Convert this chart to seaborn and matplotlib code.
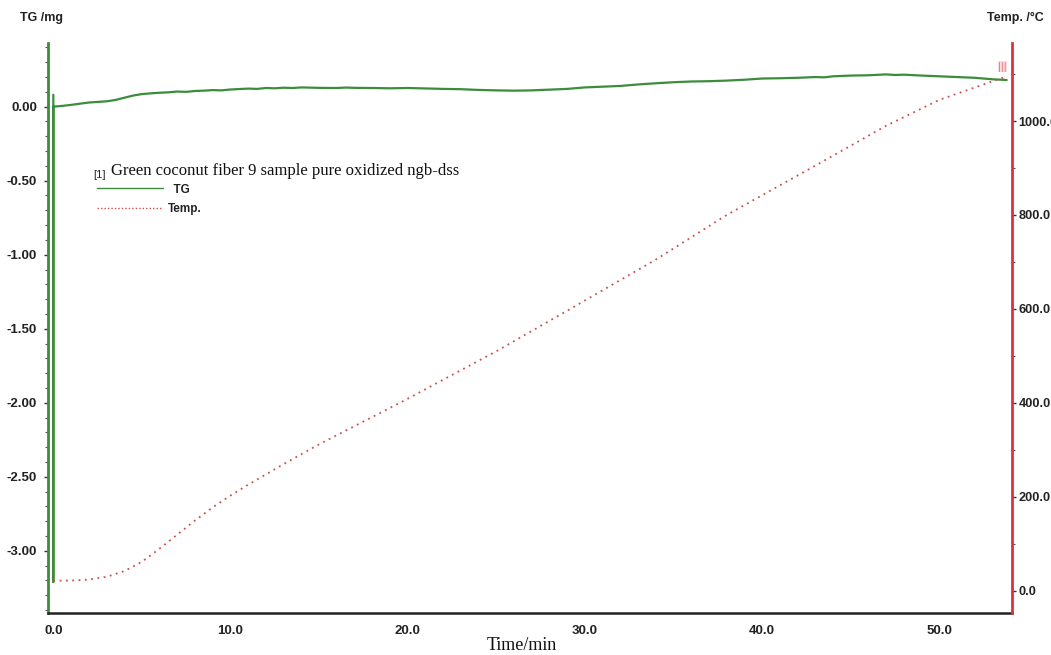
import matplotlib
matplotlib.use("Agg")
import matplotlib.pyplot as plt
import matplotlib.ticker as mticker
from matplotlib.lines import Line2D
import seaborn as sns
import pandas as pd

# ---- data ----
tg_time = [0.0, 0.0, 0.0, 0.5, 1.0, 1.5, 2.0, 2.5, 3.0, 3.5, 4.0, 4.5, 5.0, 5.5, 6.0, 6.5, 7.0,
           7.5, 8.0, 8.5, 9.0, 9.5, 10.0, 10.5, 11.0, 11.5, 12.0, 12.5, 13.0, 13.5, 14.0, 15.0,
           16.0, 16.5, 17.0, 18.0, 19.0, 20.0, 21.0, 22.0, 23.0, 24.0, 25.0, 26.0, 27.0, 28.0,
           29.0, 30.0, 31.0, 32.0, 33.0, 34.0, 35.0, 36.0, 37.0, 38.0, 39.0, 40.0, 41.0, 42.0,
           43.0, 43.5, 44.0, 45.0, 46.0, 47.0, 47.5, 48.0, 49.0, 50.0, 51.0, 52.0, 53.0, 53.8]
tg_mass = [0.08, -3.21, 0.0, 0.005, 0.012, 0.02, 0.028, 0.032, 0.036, 0.045, 0.06, 0.075,
           0.085, 0.09, 0.094, 0.097, 0.102, 0.10, 0.106, 0.108, 0.112, 0.11, 0.116, 0.119,
           0.122, 0.12, 0.126, 0.124, 0.128, 0.126, 0.13, 0.127, 0.126, 0.129, 0.127, 0.126,
           0.124, 0.126, 0.123, 0.12, 0.118, 0.113, 0.11, 0.108, 0.11, 0.115, 0.12, 0.13,
           0.135, 0.14, 0.15, 0.158, 0.165, 0.17, 0.172, 0.176, 0.182, 0.19, 0.192, 0.195,
           0.20, 0.198, 0.205, 0.21, 0.212, 0.218, 0.214, 0.216, 0.21, 0.205, 0.20, 0.195,
           0.185, 0.18]

temp_time = [0.0, 1.0, 2.0, 3.0, 4.0, 5.0, 6.0, 7.0, 8.0, 9.0, 10.0, 11.0, 12.0, 13.0, 14.0,
             15.0, 19.8, 25.0, 29.4, 34.0, 38.0, 43.0, 47.0, 50.0, 53.8]
temp_val = [22, 22, 24, 30, 42, 62, 90, 120, 150, 178, 203, 226, 248, 270, 291,
            312, 405, 510, 605, 705, 800, 905, 990, 1045, 1095]

x_ticks = [0, 10, 20, 30, 40, 50]
tg_ticks = [-3.0, -2.5, -2.0, -1.5, -1.0, -0.5, 0.0]
temp_ticks = [0, 200, 400, 600, 800, 1000]

legend_title = "Green coconut fiber 9 sample pure oxidized ngb-dss"

# ---- styling ----
sns.set_style("white")
plt.rcParams['font.family'] = ['Liberation Sans', 'DejaVu Sans']

GREEN = "#3c8c3c"
RED = "#d8343c"
TEMP_C = "#c8504f"

fig = plt.figure(figsize=(10.51, 6.55), dpi=100)
ax = fig.add_axes([48/1051, 1-613/655, (1012-48)/1051, (613-43)/655])
ax2 = ax.twinx()

tg_df = pd.DataFrame({"t": tg_time, "m": tg_mass})
tp_df = pd.DataFrame({"t": temp_time, "T": temp_val})

sns.lineplot(data=tg_df, x="t", y="m", ax=ax, sort=False, estimator=None,
             color=GREEN, lw=1.6, legend=False)
sns.lineplot(data=tp_df, x="t", y="T", ax=ax2, sort=False, estimator=None,
             color=TEMP_C, lw=1.3, linestyle=(0, (1, 2.5)), legend=False)
# end-of-segment marker
ax2.annotate("|||", xy=(temp_time[-1], temp_val[-1]), xytext=(-3, 7),
             textcoords='offset points', ha='center', va='center',
             fontsize=8, color=RED, alpha=0.6,
             bbox=dict(boxstyle='square,pad=0.05', fc='#f4c8cc', ec='none', alpha=0.6))

ax.set_xlim(-0.3, 54.1)
ax.set_ylim(-3.42, 0.43)
ax2.set_ylim(-47, 1166)

for a in (ax, ax2):
    a.set_xlabel("")
    a.set_ylabel("")
    a.spines['top'].set_visible(False)

ax.spines['left'].set_color(GREEN)
ax.spines['left'].set_linewidth(2.0)
ax.spines['right'].set_visible(False)
ax.spines['bottom'].set_color("#222222")
ax.spines['bottom'].set_linewidth(1.8)
ax2.spines['right'].set_color(RED)
ax2.spines['right'].set_linewidth(2.0)
ax2.spines['left'].set_visible(False)
ax2.spines['bottom'].set_visible(False)

ax.set_xticks(x_ticks)
ax.xaxis.set_major_formatter(mticker.FormatStrFormatter('%.1f'))
ax.xaxis.set_minor_locator(mticker.MultipleLocator(2))
ax.set_yticks(tg_ticks)
ax.yaxis.set_major_formatter(mticker.FormatStrFormatter('%.2f'))
ax.yaxis.set_minor_locator(mticker.MultipleLocator(0.1))
ax2.set_yticks(temp_ticks)
ax2.yaxis.set_major_formatter(mticker.FormatStrFormatter('%.1f'))
ax2.yaxis.set_minor_locator(mticker.MultipleLocator(100))

tick_kw = dict(labelsize=9.5, labelcolor="#222222", colors="#333333")
ax.tick_params(axis='x', which='major', direction='inout', length=5, width=1.2, pad=6, **tick_kw)
ax.tick_params(axis='x', which='minor', direction='inout', length=3, width=1.0, colors="#333333")
ax.tick_params(axis='y', which='major', direction='out', length=3, width=1.0, pad=5, left=True, **tick_kw)
ax.tick_params(axis='y', which='minor', direction='out', length=2, width=0.8, left=True, colors="#555555")
ax2.tick_params(axis='y', which='major', direction='out', length=3, width=1.0, pad=1.5, right=True,
                labelsize=9.2, labelcolor="#222222", colors="#333333")
ax2.tick_params(axis='y', which='minor', direction='out', length=2, width=0.8, right=True, colors="#555555")
for lab in ax.get_xticklabels() + ax.get_yticklabels() + ax2.get_yticklabels():
    lab.set_fontweight('bold')

# axis titles
fig.text(42/1051, 1-18/655, "TG /mg", ha='center', va='center', fontsize=9, fontweight='bold', color="#222222")
fig.text(1015/1051, 1-18/655, "Temp. /°C", ha='center', va='center', fontsize=9, fontweight='bold', color="#222222")
fig.text(522/1051, 1-646/655, "Time/min", ha='center', va='center', fontsize=13,
         family=['Liberation Serif', 'DejaVu Serif'], color="#111111")

# legend
fig.text(93/1051, 1-175/655, "[1]", ha='left', va='center', fontsize=8, color="#222222")
fig.text(111/1051, 1-171/655, legend_title, ha='left', va='center', fontsize=12,
         family=['Liberation Serif', 'DejaVu Serif'], color="#111111")
handles = [Line2D([0], [0], color=GREEN, lw=1.0),
           Line2D([0], [0], color=TEMP_C, lw=1.0, linestyle=(0, (1, 1.5)))]
leg = ax.legend(handles, ["  TG", "Temp."], loc='upper left',
                bbox_to_anchor=(38/964, 1-(173-43)/570), frameon=False,
                handlelength=5.6, handletextpad=0.4, labelspacing=0.6,
                prop={'size': 8.5, 'weight': 'bold'})
for t in leg.get_texts():
    t.set_color("#222222")

fig.savefig("out.png", dpi=100)
